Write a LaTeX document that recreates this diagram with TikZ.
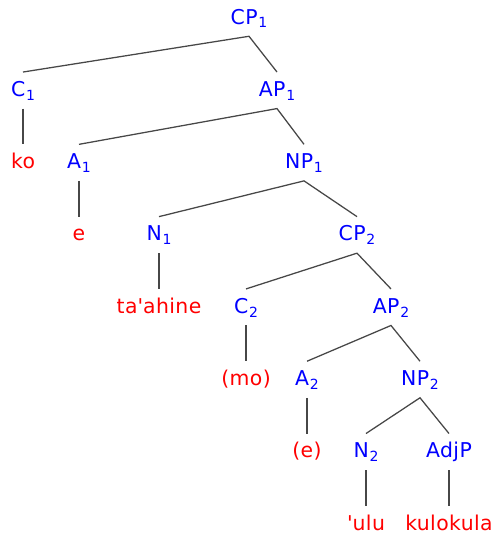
\documentclass[tikz,border=0pt]{standalone}
\usepackage{fontspec}
\setmainfont{DejaVu Sans}[LetterSpace=2]
\usepackage{xcolor}
\usepackage{tikz}

\definecolor{catblue}{RGB}{0,0,255}
\definecolor{wordred}{RGB}{255,0,0}

\newcommand{\idx}[1]{\kern0.6pt\raisebox{-0.35ex}{\fontsize{10.5pt}{10pt}\selectfont #1}}

\begin{document}
\begin{tikzpicture}[
    x=0.75pt,
    y=-0.75pt,
    cat/.style={
        anchor=base,
        inner sep=0pt,
        text height=18pt,
        text depth=9pt,
        text=catblue,
        font=\fontsize{15.3pt}{18pt}\selectfont
    },
    word/.style={
        cat,
        text=wordred
    },
    branch/.style={draw=black!72, line width=0.95pt}
]

\useasboundingbox (0,0) rectangle (498,537);

% top
\node[cat] (cpOne) at (249,24) {CP\idx{1}};

\node[cat] (cOne) at (23,96.3) {C\idx{1}};
\node[cat] (apOne) at (277,96.3) {AP\idx{1}};

\node[word] (ko) at (23,168.6) {ko};
\node[cat] (aOne) at (79,168.6) {A\idx{1}};
\node[cat] (npOne) at (304,168.6) {NP\idx{1}};

\node[word] (eOne) at (79,240.9) {e};
\node[cat] (nOne) at (159,240.9) {N\idx{1}};
\node[cat] (cpTwo) at (357,240.9) {CP\idx{2}};

\node[word] (taahine) at (159,313.2) {ta\textquotesingle ahine};
\node[cat] (cTwo) at (246,313.2) {C\idx{2}};
\node[cat] (apTwo) at (391,313.2) {AP\idx{2}};

% lower part
\node[word] (mo) at (246,385.5) {(mo)};
\node[cat] (aTwo) at (307,385.5) {A\idx{2}};
\node[cat] (npTwo) at (420,385.5) {NP\idx{2}};

\node[word] (eTwo) at (307,457.8) {(e)};
\node[cat] (nTwo) at (366,457.8) {N\idx{2}};
\node[cat] (adjP) at (449,457.8) {AdjP};

\node[word] (ulu) at (366,530.1) {\textquotesingle ulu};
\node[word] (kulokula) at (449,530.1) {kulokula};

\draw[branch] (cOne.north) -- (cpOne.south) -- (apOne.north);
\draw[branch] (cOne.south) -- (ko.north);
\draw[branch] (aOne.north) -- (apOne.south) -- (npOne.north);
\draw[branch] (aOne.south) -- (eOne.north);
\draw[branch] (nOne.north) -- (npOne.south) -- (cpTwo.north);
\draw[branch] (nOne.south) -- (taahine.north);
\draw[branch] (cTwo.north) -- (cpTwo.south) -- (apTwo.north);
\draw[branch] (cTwo.south) -- (mo.north);
\draw[branch] (aTwo.north) -- (apTwo.south) -- (npTwo.north);
\draw[branch] (aTwo.south) -- (eTwo.north);
\draw[branch] (nTwo.north) -- (npTwo.south) -- (adjP.north);
\draw[branch] (nTwo.south) -- (ulu.north);
\draw[branch] (adjP.south) -- (kulokula.north);

\end{tikzpicture}
\end{document}
